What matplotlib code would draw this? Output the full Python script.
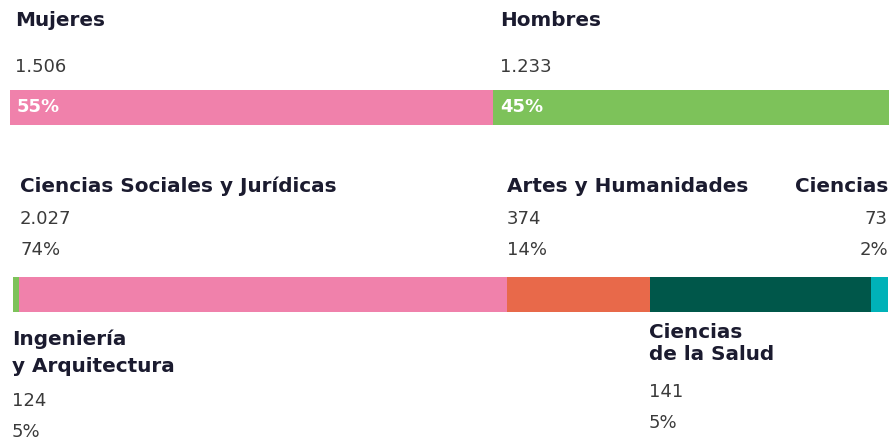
import matplotlib.pyplot as plt

# top bar: gender split
genders = ['Mujeres', 'Hombres']
gender_counts = ['1.506', '1.233']
gender_pct = [55, 45]
gender_colors = ['#F081AB', '#7DC25A']

# bottom bar: branch of study (segment widths as drawn in the original)
areas = ['Ingeniería\ny Arquitectura', 'Ciencias Sociales y Jurídicas',
         'Artes y Humanidades', 'Ciencias\nde la Salud', 'Ciencias']
area_counts = ['124', '2.027', '374', '141', '73']
area_pct = ['5%', '74%', '14%', '5%', '2%']
area_drawn_share = [0.75, 55.7, 16.3, 25.25, 2.0]
area_colors = ['#7DC25A', '#F081AB', '#E8694A', '#00574A', '#00B2B8']

W, H = 892, 443
TITLE = '#1b1b2f'
NUM = '#3a3a3a'
FS_T = 14.4
FS_N = 13

fig = plt.figure(figsize=(W / 100, H / 100), dpi=100)
ax = fig.add_axes([0, 0, 1, 1])
ax.set_xlim(0, W)
ax.set_ylim(H, 0)
ax.axis('off')


def stacked(rect, values, colors):
    b = fig.add_axes(rect)
    left = 0
    for v, c in zip(values, colors):
        b.barh(0, v, left=left, height=1, color=c, edgecolor='none')
        left += v
    b.set_xlim(0, sum(values))
    b.set_ylim(-0.5, 0.5)
    b.axis('off')
    return b


b1 = stacked([10 / W, 1 - 125 / H, 879 / W, 35 / H], gender_pct, gender_colors)
stacked([12.7 / W, 1 - 312 / H, 875.5 / W, 35 / H], area_drawn_share, area_colors)

# gender labels
gx = [15, 500]
for i in range(2):
    ax.text(gx[i], 20, genders[i], fontsize=FS_T, weight='bold', color=TITLE, va='center')
    ax.text(gx[i], 67, gender_counts[i], fontsize=FS_N, color=NUM, va='center')
left = 0
for p in gender_pct:
    b1.text(left + 0.8, 0, f'{p}%', fontsize=FS_N, weight='bold', color='white', va='center')
    left += p

# area labels above the bar
ax.text(20, 186, areas[1], fontsize=FS_T, weight='bold', color=TITLE, va='center')
ax.text(20, 219, area_counts[1], fontsize=FS_N, color=NUM, va='center')
ax.text(20, 250, area_pct[1], fontsize=FS_N, color=NUM, va='center')

ax.text(507, 186, areas[2], fontsize=FS_T, weight='bold', color=TITLE, va='center')
ax.text(507, 219, area_counts[2], fontsize=FS_N, color=NUM, va='center')
ax.text(507, 250, area_pct[2], fontsize=FS_N, color=NUM, va='center')

ax.text(888, 186, areas[4], fontsize=FS_T, weight='bold', color=TITLE, va='center', ha='right')
ax.text(888, 219, area_counts[4], fontsize=FS_N, color=NUM, va='center', ha='right')
ax.text(888, 250, area_pct[4], fontsize=FS_N, color=NUM, va='center', ha='right')

# area labels below the bar
ax.text(12, 353, areas[0], fontsize=FS_T, weight='bold', color=TITLE, va='center',
        linespacing=1.55)
ax.text(12, 401, area_counts[0], fontsize=FS_N, color=NUM, va='center')
ax.text(12, 432, area_pct[0], fontsize=FS_N, color=NUM, va='center')

ax.text(649, 343, areas[3], fontsize=FS_T, weight='bold', color=TITLE, va='center',
        linespacing=1.2)
ax.text(649, 392, area_counts[3], fontsize=FS_N, color=NUM, va='center')
ax.text(649, 423, area_pct[3], fontsize=FS_N, color=NUM, va='center')

fig.savefig('out.png', dpi=100)
